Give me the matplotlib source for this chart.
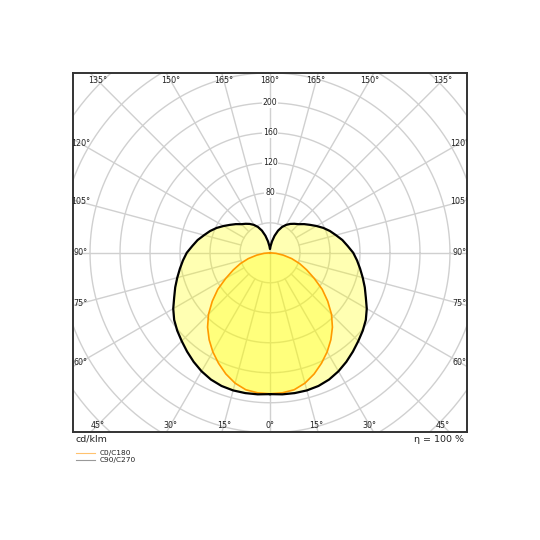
import numpy as np
import matplotlib
matplotlib.use("Agg")
import matplotlib.pyplot as plt
from matplotlib.lines import Line2D

# ---- data (cd/klm) ----
c0_angles = [0, 5, 10, 15, 20, 25, 30, 35, 40, 45, 50, 55, 60, 65, 70, 75, 80, 85, 90]
c0_values = [188, 187.5, 185.5, 180, 172, 162.5, 152.5, 141.5, 129.5, 116, 100.5, 85, 68,
             54, 42, 30, 18, 8, 0]

c90_angles = [0, 5, 10, 15, 20, 25, 30, 35, 40, 45, 50, 55, 60, 65, 70, 75, 80, 85, 90,
              95, 100, 105, 110, 115, 120, 125, 130, 135, 140, 145, 150, 155, 160, 165,
              170, 175, 180]
c90_values = [188.5, 189.5, 190, 190, 189, 186.5, 182.5, 177.5, 172, 166.5, 161.5, 156, 149,
              141, 134.5, 128, 122, 116.5, 111, 104, 98, 91, 85, 78.5, 71.5, 65, 59.5, 54,
              50.5, 47, 43, 38, 31.5, 23.5, 15.5, 9, 5]

ring_values = [40, 80, 120, 160, 200, 240, 280, 320, 360, 400]
ring_labels = [80, 120, 160, 200]
angle_ticks = [0, 15, 30, 45, 60, 75, 90, 105, 120, 135, 150, 165, 180]
legend_names = ["C0/C180", "C90/C270"]
eta_text = "η = 100 %"
unit_text = "cd/klm"

# ---- figure ----
W = 540
fig = plt.figure(figsize=(5.4, 5.4), dpi=100)
ax = fig.add_axes([72.7 / W, (W - 432.3) / W, 394.6 / W, 359.0 / W])
XL = 263.1
YL = 239.4
ax.set_xlim(-XL, XL)
ax.set_ylim(-YL, YL)
ax.set_xticks([])
ax.set_yticks([])
for s in ax.spines.values():
    s.set_color("#333333")
    s.set_linewidth(1.4)

grid_c = "#d0d0d0"
tt = np.linspace(0, 2 * np.pi, 361)
for rv in ring_values:
    ax.plot(rv * np.cos(tt), rv * np.sin(tt), color=grid_c, lw=1.0, zorder=1)
for a in range(0, 360, 15):
    g = np.radians(a)
    r0 = 0 if a % 90 == 0 else 40
    ax.plot([r0 * np.sin(g), 450 * np.sin(g)], [-r0 * np.cos(g), -450 * np.cos(g)],
            color=grid_c, lw=1.0, zorder=1)


def to_xy(angles, values, side):
    g = np.radians(np.asarray(angles, float))
    v = np.asarray(values, float)
    return side * v * np.sin(g), -v * np.cos(g)


# C90/C270 curve (full closed contour)
xr, yr = to_xy(c90_angles, c90_values, 1)
xl, yl = to_xy(c90_angles[::-1], c90_values[::-1], -1)
bx = np.concatenate([xr, xl])
by = np.concatenate([yr, yl])
ax.fill(bx, by, color="#ffff00", alpha=0.30, lw=0, zorder=2)

# C0/C180 curve
xr0, yr0 = to_xy(c0_angles, c0_values, 1)
xl0, yl0 = to_xy(c0_angles[::-1], c0_values[::-1], -1)
ox = np.concatenate([xl0, xr0])
oy = np.concatenate([yl0, yr0])
ax.fill(ox, oy, color="#ffff00", alpha=0.30, lw=0, zorder=3)
ax.plot(ox, oy, color="#ff9a00", lw=1.2, zorder=5, solid_joinstyle="round")
ax.plot(bx, by, color="black", lw=1.6, zorder=6, solid_joinstyle="round")

# radial value labels
for v in ring_labels:
    ax.text(0, v, str(v), ha="center", va="center", fontsize=5.6, color="#222222",
            zorder=7, bbox=dict(boxstyle="square,pad=0.1", fc="white", ec="none"))

# angle labels along an inset rectangle
IX, IY = 253.0, 230.0
for a in angle_ticks:
    for side in (1, -1):
        if side == -1 and a in (0, 180):
            continue
        g = np.radians(a)
        sx, sy = side * np.sin(g), -np.cos(g)
        cand = []
        if abs(sx) > 1e-9:
            cand.append(IX / abs(sx))
        if abs(sy) > 1e-9:
            cand.append(IY / abs(sy))
        t = min(cand)
        ax.text(t * sx, t * sy, f"{a}°", ha="center", va="center", fontsize=5.8,
                color="#222222", zorder=8, clip_on=True)

# texts below the frame
fig.text(76 / W, 1 - 439 / W, unit_text, ha="left", va="center", fontsize=6.8, color="#222222")
fig.text(464 / W, 1 - 439 / W, eta_text, ha="right", va="center", fontsize=6.8, color="#222222")
leg_cols = ["#ffc26e", "#999999"]
leg_y = [452.5, 460.2]
for name, col, yy in zip(legend_names, leg_cols, leg_y):
    fig.add_artist(Line2D([76 / W, 95 / W], [1 - yy / W, 1 - yy / W], color=col, lw=0.8))
    fig.text(100 / W, 1 - yy / W, name, ha="left", va="center", fontsize=5.3, color="#222222")

fig.savefig("out.png", dpi=100, facecolor="white")
